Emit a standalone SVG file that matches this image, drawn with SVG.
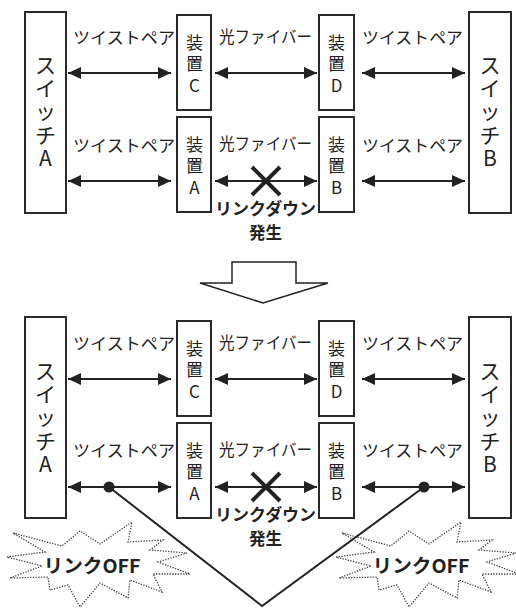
<svg xmlns="http://www.w3.org/2000/svg" width="516" height="613" viewBox="0 0 516 613">
  <defs>
    <style>
      .box { fill: #fff; stroke: #2a2a2a; stroke-width: 2; }
      .t { font-family: "Noto Sans CJK JP", "Noto Sans", sans-serif; fill: #222; text-anchor: middle; }
      .v { font-family: "Noto Sans CJK JP", "Noto Sans", sans-serif; fill: #222; writing-mode: vertical-rl; text-orientation: upright; font-feature-settings: "vert" 0; }
      .lbl { font-size: 16.5px; }
      .sw { font-size: 21px; letter-spacing: 2.2px; }
      .dev { font-size: 17px; letter-spacing: 4.5px; }
      .bold { font-weight: bold; font-size: 16.5px; }
      .off { font-weight: bold; font-size: 19px; }
      .link { stroke: #222; stroke-width: 2; fill: none; marker-start: url(#head); marker-end: url(#head); }
      .cross { stroke: #222; stroke-width: 4; }
      .burst { fill: #fff; stroke: #444; stroke-width: 1.3; stroke-dasharray: 1.3 1.4; }
      .flow { fill: #fff; stroke: #222; stroke-width: 1.5; }
      .wire { fill: none; stroke: #222; stroke-width: 2; }
    </style>
    <marker id="head" viewBox="0 0 13 12" refX="13" refY="6" markerWidth="13" markerHeight="12" markerUnits="userSpaceOnUse" orient="auto-start-reverse">
      <path d="M0,0 L13,6 L0,12 z" fill="#222"/>
    </marker>
    <polygon id="starburst" points="13,533 62,546 80,531 100,544 132,522 128,542 163,540 150,550 187,553 158,562 190,574 153,574 162,592 130,580 128,598 100,583 80,607 68,585 50,590 48,577 10,578 42,566 7,557 45,552"/>
  </defs>

  <!-- ===== Before: link down on fiber between A and B ===== -->
  <g id="before">
    <g id="switchA1">
      <rect class="box" x="25" y="12" width="41" height="201"/>
      <text class="v sw" x="45.5" y="54.5">スイッチA</text>
    </g>
    <g id="switchB1">
      <rect class="box" x="469" y="12" width="42" height="201"/>
      <text class="v sw" x="490" y="54.5">スイッチB</text>
    </g>
    <g id="devC1">
      <rect class="box" x="177" y="15" width="34" height="95"/>
      <text class="v dev" x="194.5" y="34">装置C</text>
    </g>
    <g id="devD1">
      <rect class="box" x="319" y="15" width="35" height="95"/>
      <text class="v dev" x="336.5" y="34">装置D</text>
    </g>
    <g id="devA1">
      <rect class="box" x="177" y="117" width="34" height="95"/>
      <text class="v dev" x="194.5" y="136">装置A</text>
    </g>
    <g id="devB1">
      <rect class="box" x="319" y="117" width="35" height="95"/>
      <text class="v dev" x="336.5" y="136">装置B</text>
    </g>

    <g id="connectors1">
      <line class="link" x1="68" y1="73" x2="171" y2="73"/>
      <line class="link" x1="215" y1="73" x2="317" y2="73"/>
      <line class="link" x1="362" y1="73" x2="465" y2="73"/>
      <line class="link" x1="68" y1="181" x2="171" y2="181"/>
      <line class="link" x1="215" y1="181" x2="317" y2="181"/>
      <line class="link" x1="362" y1="181" x2="465" y2="181"/>
      <path class="cross" d="M252,167 L280,195 M280,167 L252,195"/>
    </g>

    <g id="labels1">
      <text class="t lbl" x="124" y="44" textLength="102" lengthAdjust="spacingAndGlyphs">ツイストペア</text>
      <text class="t lbl" x="265.5" y="43" textLength="93" lengthAdjust="spacingAndGlyphs">光ファイバー</text>
      <text class="t lbl" x="412.5" y="44" textLength="101" lengthAdjust="spacingAndGlyphs">ツイストペア</text>
      <text class="t lbl" x="124" y="152" textLength="102" lengthAdjust="spacingAndGlyphs">ツイストペア</text>
      <text class="t lbl" x="265.5" y="150" textLength="93" lengthAdjust="spacingAndGlyphs">光ファイバー</text>
      <text class="t lbl" x="412.5" y="152" textLength="101" lengthAdjust="spacingAndGlyphs">ツイストペア</text>
      <text class="t bold" x="265.5" y="215" textLength="101" lengthAdjust="spacingAndGlyphs">リンクダウン</text>
      <text class="t bold" x="265.5" y="239">発生</text>
    </g>
  </g>

  <!-- transition arrow -->
  <g id="transition">
    <polygon class="flow" points="232,262 296,262 296,283 328,283 263,303 200,283 232,283 232,262"/>
  </g>

  <!-- ===== After: twisted-pair links go OFF ===== -->
  <g id="after">
    <g id="switchA2">
      <rect class="box" x="25" y="317" width="41" height="201"/>
      <text class="v sw" x="45.5" y="360.5">スイッチA</text>
    </g>
    <g id="switchB2">
      <rect class="box" x="469" y="317" width="42" height="201"/>
      <text class="v sw" x="490" y="360.5">スイッチB</text>
    </g>
    <g id="devC2">
      <rect class="box" x="177" y="321" width="34" height="95"/>
      <text class="v dev" x="194.5" y="340">装置C</text>
    </g>
    <g id="devD2">
      <rect class="box" x="319" y="321" width="35" height="95"/>
      <text class="v dev" x="336.5" y="340">装置D</text>
    </g>
    <g id="devA2">
      <rect class="box" x="177" y="423" width="34" height="95"/>
      <text class="v dev" x="194.5" y="442">装置A</text>
    </g>
    <g id="devB2">
      <rect class="box" x="319" y="423" width="35" height="95"/>
      <text class="v dev" x="336.5" y="442">装置B</text>
    </g>

    <g id="burstLeft">
      <use href="#starburst" class="burst"/>
      <text class="t off" x="92" y="573" textLength="97" lengthAdjust="spacingAndGlyphs">リンクOFF</text>
    </g>
    <g id="burstRight">
      <use href="#starburst" class="burst" transform="translate(329,0)"/>
      <text class="t off" x="421" y="573" textLength="97" lengthAdjust="spacingAndGlyphs">リンクOFF</text>
    </g>

    <g id="connectors2">
      <line class="link" x1="68" y1="379" x2="171" y2="379"/>
      <line class="link" x1="215" y1="379" x2="317" y2="379"/>
      <line class="link" x1="362" y1="379" x2="465" y2="379"/>
      <line class="link" x1="68" y1="487" x2="171" y2="487"/>
      <line class="link" x1="215" y1="487" x2="317" y2="487"/>
      <line class="link" x1="362" y1="487" x2="465" y2="487"/>
      <path class="cross" d="M252,473 L280,501 M280,473 L252,501"/>
      <polyline class="wire" points="109,487 262,606 424,487"/>
      <circle cx="109" cy="487" r="5.5" fill="#222"/>
      <circle cx="424" cy="487" r="5.5" fill="#222"/>
    </g>

    <g id="labels2">
      <text class="t lbl" x="124" y="350" textLength="102" lengthAdjust="spacingAndGlyphs">ツイストペア</text>
      <text class="t lbl" x="265.5" y="349" textLength="93" lengthAdjust="spacingAndGlyphs">光ファイバー</text>
      <text class="t lbl" x="412.5" y="350" textLength="101" lengthAdjust="spacingAndGlyphs">ツイストペア</text>
      <text class="t lbl" x="124" y="457" textLength="102" lengthAdjust="spacingAndGlyphs">ツイストペア</text>
      <text class="t lbl" x="265.5" y="456" textLength="93" lengthAdjust="spacingAndGlyphs">光ファイバー</text>
      <text class="t lbl" x="412.5" y="457" textLength="101" lengthAdjust="spacingAndGlyphs">ツイストペア</text>
      <text class="t bold" x="265.5" y="521" textLength="101" lengthAdjust="spacingAndGlyphs">リンクダウン</text>
      <text class="t bold" x="265.5" y="545">発生</text>
    </g>
  </g>
</svg>
